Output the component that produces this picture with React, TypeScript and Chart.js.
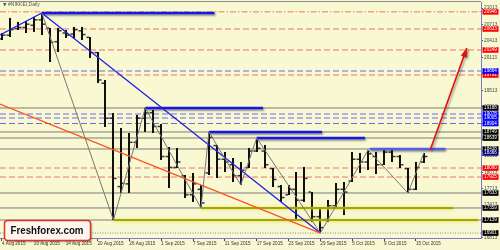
import React, { useEffect, useRef } from 'react';
import { Chart, registerables } from 'chart.js';

Chart.register(...registerables);

// ---------- DATA ----------
const dates = [
  '4 Aug 2015', '5 Aug 2015', '6 Aug 2015', '7 Aug 2015', '10 Aug 2015', '11 Aug 2015', '12 Aug 2015', '13 Aug 2015',
  '14 Aug 2015', '17 Aug 2015', '18 Aug 2015', '19 Aug 2015', '20 Aug 2015', '21 Aug 2015', '24 Aug 2015', '25 Aug 2015',
  '26 Aug 2015', '27 Aug 2015', '28 Aug 2015', '31 Aug 2015', '1 Sep 2015', '2 Sep 2015', '3 Sep 2015', '4 Sep 2015',
  '7 Sep 2015', '8 Sep 2015', '9 Sep 2015', '10 Sep 2015', '11 Sep 2015', '14 Sep 2015', '15 Sep 2015', '16 Sep 2015',
  '17 Sep 2015', '18 Sep 2015', '21 Sep 2015', '22 Sep 2015', '23 Sep 2015', '24 Sep 2015', '25 Sep 2015', '28 Sep 2015',
  '29 Sep 2015', '30 Sep 2015', '1 Oct 2015', '2 Oct 2015', '5 Oct 2015', '6 Oct 2015', '7 Oct 2015', '8 Oct 2015',
  '9 Oct 2015', '12 Oct 2015', '13 Oct 2015', '14 Oct 2015', '15 Oct 2015', '16 Oct 2015',
];
const dateTickIdx = [0, 4, 8, 12, 16, 20, 24, 28, 32, 36, 40, 44, 48, 52];

const highs = [20559, 20834, 20761, 20779, 20852, 20925, 20651, 20651, 20614, 20669, 20669, 20486, 20212, 19700, 19096, 18822, 18730, 19060, 19188, 19151, 18895, 18474, 18456, 17962, 17999, 17779, 18749, 18511, 18383, 18273, 18200, 18456, 18639, 18511, 18090, 17779, 17779, 18017, 18109, 17651, 17359, 17505, 17816, 17834, 18383, 18365, 18420, 18383, 18420, 18420, 18328, 18090, 18200, 18365];
const lows = [20431, 20486, 20614, 20559, 20578, 20523, 20029, 20212, 20468, 20468, 20431, 20102, 19645, 18840, 17139, 17633, 17633, 18456, 18749, 18730, 18237, 17724, 18090, 17542, 17469, 17359, 17962, 17907, 18017, 17834, 17779, 18090, 18383, 18090, 17743, 17469, 17596, 17139, 17469, 17103, 16901, 17103, 17377, 17231, 17834, 17999, 18054, 17981, 18145, 18200, 18090, 17633, 17688, 18182];
const opens = [20450, 20520, 20640, 20660, 20700, 20800, 20650, 20400, 20560, 20540, 20600, 20480, 20200, 19640, 19000, 17750, 17800, 18560, 19000, 19100, 18850, 18300, 18100, 17950, 17600, 17700, 18000, 18500, 18250, 18150, 17950, 18100, 18400, 18400, 18080, 17750, 17600, 17700, 17500, 17650, 17200, 17150, 17400, 17700, 17850, 18250, 18200, 18300, 18150, 18380, 18300, 18080, 17700, 18200];
const closes = [20520, 20620, 20660, 20720, 20800, 20720, 20390, 20600, 20520, 20620, 20530, 20200, 19700, 19000, 17900, 17810, 18560, 19000, 19100, 18850, 18300, 18100, 18200, 17600, 17800, 17450, 18650, 18250, 18200, 17950, 18050, 18400, 18450, 18150, 17880, 17550, 17700, 17500, 17900, 17200, 17000, 17400, 17700, 17650, 18250, 18200, 18350, 18150, 18380, 18300, 18150, 17700, 18100, 18300];

const yTicks = [21013, 20713, 20413, 20113, 19813, 19513, 19213, 18913, 18613, 18313, 18013, 17713, 17413, 17113, 16813];

const grayLevels = [19188, 18749, 18639, 18438, 17633, 17359, 17139];
const redDashLevels = [20633, 20249, 19791, 18090, 17925];
const redDashDotLevels = [20946];
const blueDashLevels = [19864, 19078, 19005, 18904];
const dottedLevels = [16901];
const navyLevels = [18366];

const zigzagIdx = [5, 14, 18, 25, 26, 30, 32, 40, 46, 51, 53];
const zigzagVal = [20925, 17139, 19188, 17359, 18749, 17779, 18639, 16901, 18420, 17633, 18365];

const blueTrendIdx = [-0.25, 5, 40];
const blueTrendVal = [20523, 20925, 16901];
const orangeTrendIdx = [-0.25, 40];
const orangeTrendVal = [19261, 16901];

const resistStart = [5, 18, 26, 32, 46.2];
const resistEnd = [26.7, 32.8, 40.2, 45.6, 55.7];
const resistVal = [20925, 19188, 18749, 18639, 18438];

const supportStart = [25, 14];
const supportEnd = [56.7, 59.8];
const supportVal = [17359, 17139];

const arrowIdx = [53.8, 58.4];
const arrowVal = [18420, 20285];

// ---------- CONFIG ----------
const X_MIN = -0.25;
const X_MAX = 60.18;
const Y_MIN = 16810;
const Y_MAX = 21126;
const BG = '#F8F8D2';
const FONT = '"Liberation Sans", Arial, sans-serif';

const seg = (a: number, b: number, v: number) => [{ x: a, y: v }, { x: b, y: v }];
const pts = (xs: number[], ys: number[]) => xs.map((x, i) => ({ x, y: ys[i] }));

function lineDs(label: string, data: any[], color: string, width: number, dash: number[], order: number, extra: any = {}) {
  return {
    type: 'line', label, data, borderColor: color, borderWidth: width, borderDash: dash,
    pointRadius: 0, fill: false, tension: 0, order, ...extra,
  };
}

function buildDatasets() {
  const ds: any[] = [];
  grayLevels.forEach(v => ds.push(lineDs('gray', seg(X_MIN, X_MAX, v), '#7c7c7c', 1, [], 7)));
  redDashLevels.forEach(v => ds.push(lineDs('red', seg(X_MIN, X_MAX, v), '#F07862', 1, [6, 3], 7)));
  redDashDotLevels.forEach(v => ds.push(lineDs('reddd', seg(X_MIN, X_MAX, v), '#F07862', 1, [6, 2, 1.5, 2], 7)));
  blueDashLevels.forEach(v => ds.push(lineDs('blue', seg(X_MIN, X_MAX, v), '#6C6CE8', 1, [6, 3], 7)));
  dottedLevels.forEach(v => ds.push(lineDs('dot', seg(X_MIN, X_MAX, v), '#8080E0', 1, [1, 1.5], 7)));
  ds.push({
    type: 'line', label: 'ohlc', data: highs.map((h, i) => ({ x: i, y: h })), showLine: false,
    pointRadius: 0, order: 5,
  });
  supportVal.forEach((v, i) => ds.push(lineDs('support', seg(supportStart[i], supportEnd[i], v), '#A6A600', 1.8, [], 4,
    { shadow: { color: 'rgba(215,215,70,0.95)', blur: 3, dx: 0, dy: 0.5 } })));
  resistVal.forEach((v, i) => ds.push(lineDs('resist', seg(resistStart[i], resistEnd[i], v), i === 4 ? '#5A5AF0' : '#1818E6', 2.5, [], 3,
    { shadow: { color: 'rgba(0,0,40,0.45)', blur: 2, dx: 1, dy: 1.5 } })));
  ds.push(lineDs('orange', pts(orangeTrendIdx, orangeTrendVal), '#FF5020', 1.3, [], 2));
  ds.push(lineDs('bluetrend', pts(blueTrendIdx, blueTrendVal), '#2020E0', 1.3, [], 2));
  ds.push(lineDs('zigzag', pts(zigzagIdx, zigzagVal), '#777777', 1, [], 1));
  ds.push(lineDs('arrow', pts(arrowIdx, arrowVal), '#E01010', 1.6, [], 0,
    { shadow: { color: 'rgba(0,0,0,0.35)', blur: 2, dx: 1.5, dy: 1.5 } }));
  return ds;
}

function drawOhlc(chart: any) {
  const { ctx, chartArea: a } = chart;
  const x = chart.scales.x;
  const y = chart.scales.y;
  ctx.save();
  ctx.beginPath();
  ctx.rect(a.left, a.top, a.right - a.left, a.bottom - a.top);
  ctx.clip();
  for (let i = 0; i < highs.length; i++) {
    const px = Math.round(x.getPixelForValue(i));
    const yh = y.getPixelForValue(highs[i]);
    const yl = y.getPixelForValue(lows[i]);
    const yo = y.getPixelForValue(opens[i]);
    const yc = y.getPixelForValue(closes[i]);
    ctx.fillStyle = '#101010';
    ctx.fillRect(px - 1, yh, 2, yl - yh);
    ctx.fillStyle = '#3a3a3a';
    ctx.fillRect(px - 3.5, yo - 0.75, 2.5, 1.5);
    ctx.fillRect(px + 1, yc - 0.75, 2.5, 1.5);
  }
  ctx.restore();
}

const decorPlugin = {
  id: 'decor',
  beforeDraw(chart: any) {
    const ctx = chart.ctx;
    ctx.save();
    ctx.fillStyle = BG;
    ctx.fillRect(0, 0, chart.width, chart.height);
    ctx.restore();
  },
  beforeDatasetDraw(chart: any, args: any) {
    const ds = chart.data.datasets[args.index];
    if (ds.shadow) {
      const c = chart.ctx;
      c.save();
      c.shadowColor = ds.shadow.color;
      c.shadowBlur = ds.shadow.blur;
      c.shadowOffsetX = ds.shadow.dx;
      c.shadowOffsetY = ds.shadow.dy;
    }
  },
  afterDatasetDraw(chart: any, args: any) {
    const ds = chart.data.datasets[args.index];
    if (ds.shadow) chart.ctx.restore();
    if (ds.label === 'ohlc') drawOhlc(chart);
    if (ds.label === 'arrow') {
      const meta = chart.getDatasetMeta(args.index);
      const p0 = meta.data[0];
      const p1 = meta.data[1];
      const ang = Math.atan2(p1.y - p0.y, p1.x - p0.x);
      const L = 9, W = 3.2;
      const c = chart.ctx;
      c.save();
      c.shadowColor = 'rgba(0,0,0,0.35)';
      c.shadowBlur = 2; c.shadowOffsetX = 1.5; c.shadowOffsetY = 1.5;
      c.fillStyle = '#E01010';
      c.beginPath();
      c.moveTo(p1.x, p1.y);
      c.lineTo(p1.x - L * Math.cos(ang) + W * Math.sin(ang), p1.y - L * Math.sin(ang) - W * Math.cos(ang));
      c.lineTo(p1.x - L * Math.cos(ang) - W * Math.sin(ang), p1.y - L * Math.sin(ang) + W * Math.cos(ang));
      c.closePath();
      c.fill();
      c.restore();
    }
  },
  afterDraw(chart: any) {
    const ctx = chart.ctx;
    const a = chart.chartArea;
    const y = chart.scales.y;
    ctx.save();
    // top border
    ctx.strokeStyle = '#8a8a8a';
    ctx.lineWidth = 1;
    ctx.beginPath();
    ctx.moveTo(0, 1.5);
    ctx.lineTo(a.right, 1.5);
    ctx.stroke();

    // price label boxes
    const boxes: { v: number; c: string }[] = [];
    redDashDotLevels.forEach(v => boxes.push({ v, c: '#FF0000' }));
    redDashLevels.forEach(v => boxes.push({ v, c: '#FF0000' }));
    blueDashLevels.forEach(v => boxes.push({ v, c: '#0000FF' }));
    grayLevels.forEach(v => boxes.push({ v, c: '#000000' }));
    dottedLevels.forEach(v => boxes.push({ v, c: '#000000' }));
    navyLevels.forEach(v => boxes.push({ v, c: '#000080' }));
    ctx.font = `4.6px ${FONT}`;
    ctx.textAlign = 'center';
    ctx.textBaseline = 'middle';
    boxes.forEach(b => {
      const py = y.getPixelForValue(b.v);
      ctx.fillStyle = b.c;
      ctx.fillRect(a.right + 1.5, py - 2.8, 16, 5.6);
      ctx.fillStyle = '#ffffff';
      ctx.fillText(String(b.v), a.right + 9.5, py + 0.2);
    });

    // title
    ctx.textAlign = 'left';
    ctx.fillStyle = '#555';
    ctx.font = `4.5px "DejaVu Sans", sans-serif`;
    ctx.fillText('▼', 3, 5);
    ctx.font = `5px ${FONT}`;
    ctx.fillText('#NIKKEI,Daily', 8, 5);

    // watermark
    ctx.shadowColor = 'rgba(0,0,0,0.35)';
    ctx.shadowBlur = 2;
    ctx.shadowOffsetX = 1.5;
    ctx.shadowOffsetY = 1.5;
    ctx.fillStyle = '#FFF6F0';
    ctx.beginPath();
    (ctx as any).roundRect(4.5, 220.5, 86, 20, 3);
    ctx.fill();
    ctx.shadowColor = 'transparent';
    ctx.strokeStyle = '#E3322A';
    ctx.lineWidth = 1.5;
    ctx.stroke();
    ctx.fillStyle = '#111';
    ctx.font = `bold 11px ${FONT}`;
    ctx.textAlign = 'center';
    ctx.textBaseline = 'middle';
    ctx.fillText('Freshforex.com', 47, 230.8, 73);
    ctx.restore();
  },
};

export default function App() {
  const ref = useRef<HTMLCanvasElement>(null);
  useEffect(() => {
    const canvas = ref.current;
    if (!canvas) return;
    const chart = new Chart(canvas, {
      type: 'line',
      data: { datasets: buildDatasets() },
      options: {
        animation: false,
        responsive: false,
        devicePixelRatio: 1,
        events: [],
        layout: { padding: { left: 0, right: 0, top: 2, bottom: 0 } },
        plugins: { legend: { display: false }, tooltip: { enabled: false } },
        scales: {
          x: {
            type: 'linear', min: X_MIN, max: X_MAX, position: 'bottom',
            afterFit: (s: any) => { s.height = 12; s.paddingLeft = 0; s.paddingRight = 0; },
            afterBuildTicks: (ax: any) => { ax.ticks = dateTickIdx.map(v => ({ value: v })); },
            ticks: {
              autoSkip: false, maxRotation: 0, minRotation: 0, align: 'start', padding: 0,
              font: { size: 4.6, family: FONT }, color: '#333',
              callback: (v: any) => dates[v as number] ?? '',
            },
            grid: { drawOnChartArea: false, drawTicks: true, tickLength: 3, color: '#444' },
            border: { display: true, color: '#7c7cba' },
          },
          y: {
            type: 'linear', min: Y_MIN, max: Y_MAX, position: 'right',
            afterFit: (s: any) => { s.width = 19; s.paddingTop = 0; s.paddingBottom = 0; },
            afterBuildTicks: (ax: any) => { ax.ticks = yTicks.map(v => ({ value: v })); },
            ticks: {
              autoSkip: false, padding: 1, font: { size: 4.8, family: FONT }, color: '#444',
              callback: (v: any) => String(v),
            },
            grid: { drawOnChartArea: false, drawTicks: true, tickLength: 2, color: '#555' },
            border: { display: true, color: '#7c7cba' },
          },
        },
      } as any,
      plugins: [decorPlugin],
    } as any);
    return () => chart.destroy();
  }, []);
  return (
    <div style={{ position: 'fixed', left: 0, top: 0, width: 500, height: 250 }}>
      <canvas ref={ref} width={500} height={250} style={{ display: 'block', width: 500, height: 250 }} />
    </div>
  );
}
